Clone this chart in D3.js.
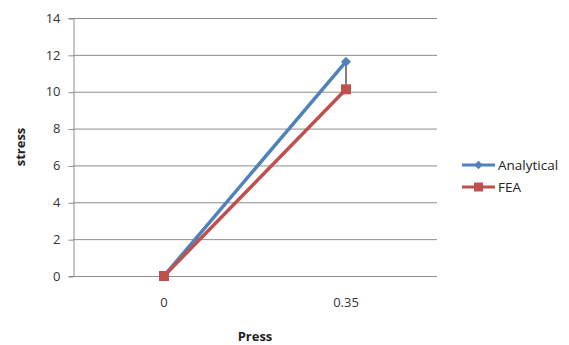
<!DOCTYPE html>
<html><head><meta charset="utf-8">
<script src="https://cdn.jsdelivr.net/npm/d3@7"></script>
<style>body{margin:0;background:#fff}svg{display:block}text{font-family:"Open Sans","DejaVu Sans",sans-serif}</style>
</head><body><svg id="c" width="569" height="345"></svg>
<script>
const categories = ["0", "0.35"];
const analytical = [0, 11.63];
const fea = [0, 10.13];
const yTicks = [0, 2, 4, 6, 8, 10, 12, 14];
const seriesNames = ["Analytical", "FEA"];
const colors = ["#4F81BD", "#C0504D"];

const svg = d3.select("#c");
const m = {l: 73, r: 437, t: 18, b: 276};
const x = d3.scaleBand().domain(categories).range([m.l, m.r]);
const y = d3.scaleLinear().domain([0, 14]).range([m.b, m.t]);

// gridlines
svg.append("g").selectAll("line").data(yTicks).join("line")
  .attr("x1", m.l).attr("x2", m.r)
  .attr("y1", d => y(d) + 0.5).attr("y2", d => y(d) + 0.5)
  .attr("stroke", "#8c8c8c").attr("stroke-width", 1);

// y axis
const ya = svg.append("g").attr("transform", `translate(${m.l + 0.5},0)`)
  .call(d3.axisLeft(y).tickValues(yTicks).tickSize(5).tickPadding(8));
ya.select(".domain").attr("stroke", "#8c8c8c");
ya.selectAll(".tick line").attr("stroke", "#8c8c8c").attr("transform", "translate(0,0.5)");
ya.selectAll("text").attr("font-size", 13).attr("fill", "#333").attr("font-family", "Open Sans, sans-serif");

// x axis labels
const xa = svg.append("g").attr("transform", `translate(0,${m.b})`)
  .call(d3.axisBottom(x).tickSize(0).tickPadding(22));
xa.select(".domain").remove();
xa.selectAll("text").attr("font-size", 13).attr("fill", "#333").attr("font-family", "Open Sans, sans-serif");

// axis titles
svg.append("text").attr("x", (m.l + m.r) / 2).attr("y", 341).attr("text-anchor", "middle")
  .attr("font-size", 13).attr("font-weight", "bold").attr("fill", "#222").text("Press");
svg.append("text").attr("transform", `translate(25,${(m.t + m.b) / 2}) rotate(-90)`)
  .attr("text-anchor", "middle").attr("font-size", 13).attr("font-weight", "bold").attr("fill", "#222").text("stress");

const cx = d => x(d) + x.bandwidth() / 2;
const line = d3.line().x(d => cx(d.c)).y(d => y(d.v));

// high-low line
svg.append("line").attr("x1", cx(categories[1])).attr("x2", cx(categories[1]))
  .attr("y1", y(analytical[1])).attr("y2", y(fea[1])).attr("stroke", "#000").attr("stroke-width", 1);

const data = [analytical, fea].map((s, i) => s.map((v, j) => ({c: categories[j], v})));

data.forEach((s, i) => {
  svg.append("path").datum(s).attr("d", line).attr("fill", "none")
    .attr("stroke", colors[i]).attr("stroke-width", 3.5);
});
// markers
data.forEach((s, i) => {
  const g = svg.append("g");
  if (i === 0) {
    g.selectAll("path").data(s).join("path")
      .attr("d", d3.symbol(d3.symbolSquare, 50))
      .attr("transform", d => `translate(${cx(d.c)},${y(d.v)}) rotate(45)`)
      .attr("fill", colors[i]);
  } else {
    g.selectAll("rect").data(s).join("rect")
      .attr("x", d => cx(d.c) - 5).attr("y", d => y(d.v) - 5)
      .attr("width", 10).attr("height", 10).attr("fill", colors[i]);
  }
});

// legend
const lg = svg.append("g");
seriesNames.forEach((n, i) => {
  const yy = 165 + i * 22;
  lg.append("line").attr("x1", 462).attr("x2", 495).attr("y1", yy).attr("y2", yy)
    .attr("stroke", colors[i]).attr("stroke-width", 3);
  if (i === 0) {
    lg.append("path").attr("d", d3.symbol(d3.symbolSquare, 36)).attr("transform", `translate(478.5,${yy}) rotate(45)`).attr("fill", colors[i]);
  } else {
    lg.append("rect").attr("x", 474).attr("y", yy - 4.5).attr("width", 9).attr("height", 9).attr("fill", colors[i]);
  }
  lg.append("text").attr("x", 498).attr("y", yy + 5).attr("font-size", 13.5).attr("fill", "#222").text(n);
});
</script></body></html>
